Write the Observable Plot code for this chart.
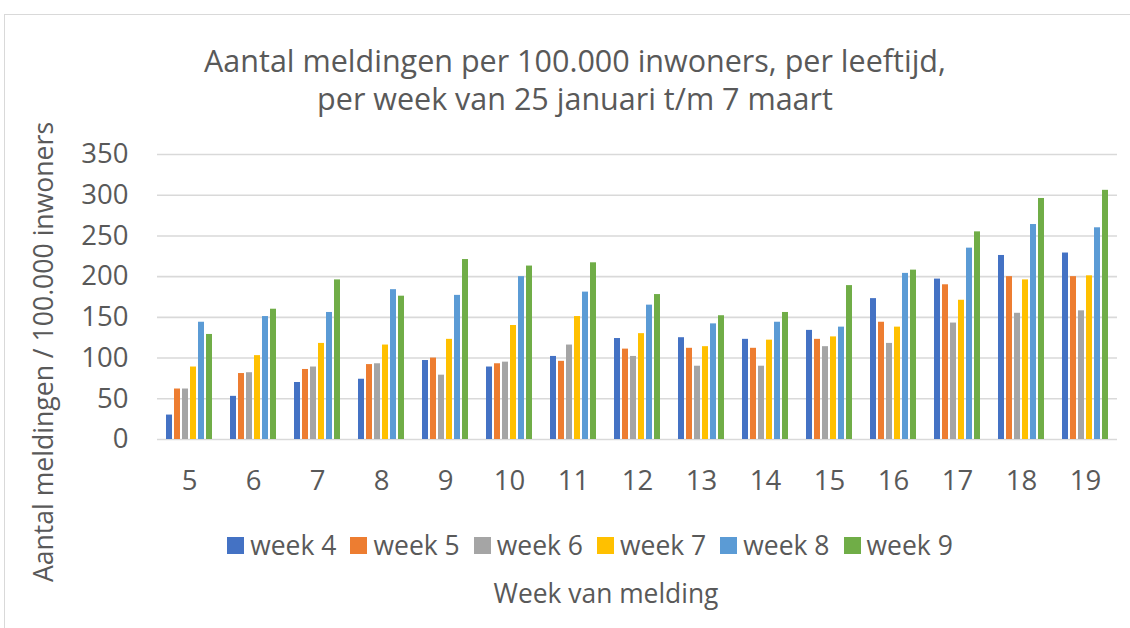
<!DOCTYPE html>
<html>
<head>
<meta charset="utf-8">
<script src="https://cdn.jsdelivr.net/npm/d3@7"></script>
<script src="https://cdn.jsdelivr.net/npm/@observablehq/plot@0.6"></script>
<style>
  html, body { margin: 0; padding: 0; background: #fff; }
  #wrap { position: relative; width: 1130px; height: 628px; overflow: hidden; font-family: "Open Sans", sans-serif; color: #595959; }
  #frame { position: absolute; left: 4px; top: 14px; width: 1140px; height: 640px; border: 1.5px solid #d9d9d9; box-sizing: border-box; }
  #title { position: absolute; left: 0; width: 1150px; top: 41px; text-align: center; font-size: 30.5px; line-height: 38px; font-weight: 400; }
  #chart { position: absolute; left: 0; top: 130px; }
  #ytitle { position: absolute; left: 43px; top: 352px; transform: translate(-50%, -50%) rotate(-90deg); white-space: nowrap; font-size: 26.6px; }
  #legend { position: absolute; left: 0; width: 1180px; top: 530px; display: flex; justify-content: center; font-size: 26.5px; line-height: 30px; }
  #legend .item { display: flex; align-items: center; margin: 0 7px; }
  #legend .sw { width: 17px; height: 17px; margin-right: 6px; }
  #xtitle { position: absolute; left: 0; width: 1212px; top: 577px; text-align: center; font-size: 26.4px; line-height: 32px; }
</style>
</head>
<body>
<div id="wrap">
  <div id="frame"></div>
  <div id="title"></div>
  <div id="chart"></div>
  <div id="ytitle"></div>
  <div id="legend"></div>
  <div id="xtitle"></div>
</div>
<script>
const titleLines = ["Aantal meldingen per 100.000 inwoners, per leeftijd,", "per week van 25 januari t/m 7 maart"];
const yTitle = "Aantal meldingen / 100.000 inwoners";
const xTitle = "Week van melding";
const ages = [5, 6, 7, 8, 9, 10, 11, 12, 13, 14, 15, 16, 17, 18, 19];
const series = ["week 4", "week 5", "week 6", "week 7", "week 8", "week 9"];
const colors = ["#4472C4", "#ED7D31", "#A5A5A5", "#FFC000", "#5B9BD5", "#70AD47"];
const yTicks = [0, 50, 100, 150, 200, 250, 300, 350];
const week4 = [30, 53, 70, 74, 97, 89, 102, 124, 125, 123, 134, 173, 197, 226, 229];
const week5 = [62, 81, 86, 92, 100, 93, 96, 111, 112, 112, 123, 144, 190, 200, 200];
const week6 = [62, 82, 89, 93, 79, 95, 116, 102, 90, 90, 114, 118, 143, 155, 158];
const week7 = [89, 103, 118, 116, 123, 140, 151, 130, 114, 122, 126, 138, 171, 196, 201];
const week8 = [144, 151, 156, 184, 177, 200, 181, 165, 142, 144, 138, 204, 235, 264, 260];
const week9 = [129, 160, 196, 176, 221, 213, 217, 178, 152, 156, 189, 208, 255, 296, 306];

const values = [week4, week5, week6, week7, week8, week9];
const data = [];
ages.forEach((a, i) => series.forEach((s, j) => data.push({age: a, week: s, value: values[j][i]})));

document.getElementById("title").innerHTML = titleLines.join("<br>");
document.getElementById("ytitle").textContent = yTitle;
document.getElementById("xtitle").textContent = xTitle;
const leg = document.getElementById("legend");
series.forEach((s, j) => {
  const it = document.createElement("div"); it.className = "item";
  const sw = document.createElement("div"); sw.className = "sw"; sw.style.background = colors[j];
  const tx = document.createElement("span"); tx.textContent = s;
  it.appendChild(sw); it.appendChild(tx); leg.appendChild(it);
});

const chart = Plot.plot({
  width: 1130,
  height: 370,
  marginLeft: 153,
  marginRight: 9,
  marginTop: 24,
  marginBottom: 61,
  style: {fontFamily: "Open Sans, sans-serif", fontSize: "27.5px", color: "#595959", background: "transparent"},
  fx: {domain: ages, paddingInner: 0, paddingOuter: 0, label: null, axis: "bottom", tickSize: 0, tickPadding: 31},
  x: {domain: series, axis: null, paddingInner: 0.2, paddingOuter: 0.77},
  y: {domain: [0, 350], ticks: yTicks, label: null, tickSize: 0, tickPadding: 29},
  color: {domain: series, range: colors},
  marks: [
    Plot.ruleY(yTicks, {stroke: "#d9d9d9", strokeWidth: 1.6}),
    Plot.barY(data, {fx: "age", x: "week", y: "value", fill: "week", inset: 0})
  ]
});
document.getElementById("chart").appendChild(chart);
</script>
</body>
</html>
